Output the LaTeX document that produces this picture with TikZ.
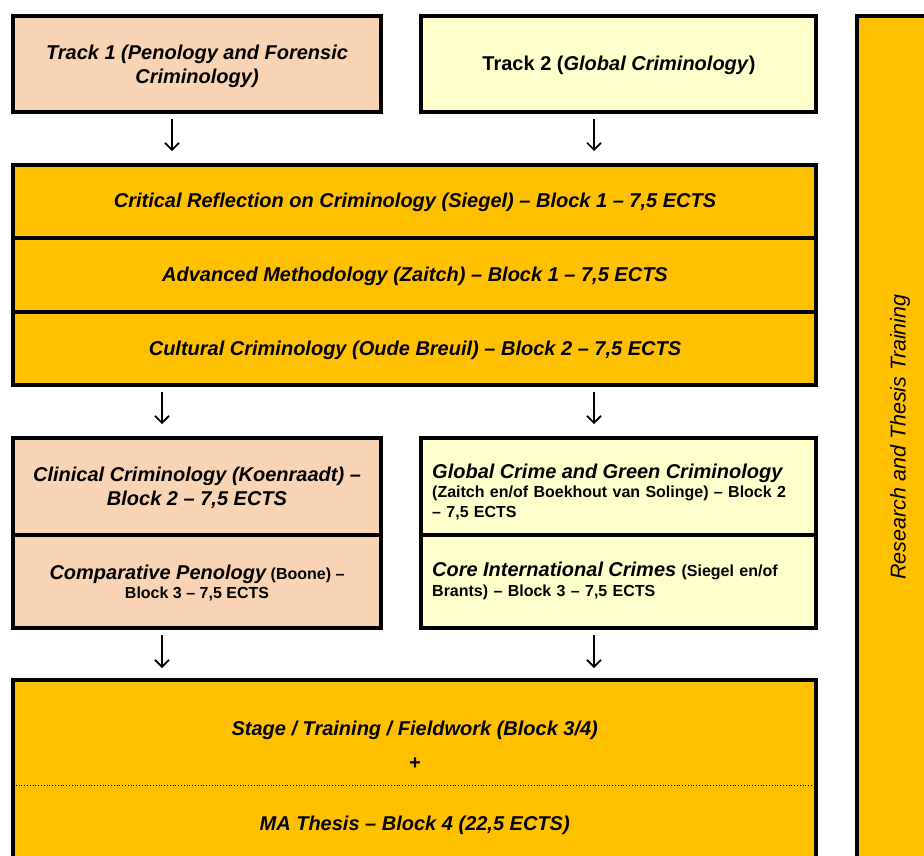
\documentclass[tikz,border=0pt]{standalone}
\usepackage{fontspec}
\usepackage{graphicx}
\setmainfont{Liberation Sans}
\usetikzlibrary{arrows.meta}
\definecolor{peach}{HTML}{F9D4B4}
\definecolor{pale}{HTML}{FFFFCC}
\definecolor{gold}{HTML}{FFC000}
\begin{document}
\begin{tikzpicture}[x=1pt,y=-1pt,
  box/.style={draw=black, line width=4pt, anchor=north west, inner sep=0pt},
  rowbox/.style={draw=black, line width=3.5pt, anchor=north west, inner sep=0pt, fill=gold},
  txt/.style={inner sep=0pt, align=center},
  ltxt/.style={inner sep=0pt, align=left, anchor=west, text width=372pt},
  big/.style={font=\fontsize{20}{24}\selectfont\bfseries\itshape},
  small/.style={font=\fontsize{16}{19.5}\selectfont\bfseries},
  arr/.style={line width=1.7pt, -{Straight Barb[length=7pt,width=14pt,line width=1.7pt]}, shorten <=5pt, shorten >=12pt}
]
\useasboundingbox (0,0) rectangle (924,855);
\clip (0,0) rectangle (924,855);
\fill[white] (0,0) rectangle (924,855);

% tracks
\node[box, fill=peach, minimum width=368pt, minimum height=96pt] (t1) at (11,14) {};
\node[txt, big] (t1txt) at (197,66) {Track 1 (Penology and Forensic\\Criminology)};
\node[box, fill=pale, minimum width=395pt, minimum height=96pt] (t2) at (419,14) {};
\node[txt, font=\fontsize{20}{24}\selectfont\bfseries] (t2txt) at (619,65) {Track 2 (\textit{Global Criminology})};

% common courses
\node[rowbox, minimum width=803pt, minimum height=73pt] (crit) at (11,163) {};
\node[rowbox, minimum width=803pt, minimum height=74pt] (adv) at (11,236) {};
\node[rowbox, minimum width=803pt, minimum height=73pt] (cult) at (11,310) {};
\draw[line width=4pt] (crit.north west) ++(2,2) rectangle ([shift={(-2pt,2pt)}]cult.south east);
\node[txt, big] (crittxt) at (415,202) {Critical Reflection on Criminology (Siegel) -- Block 1 -- 7,5 ECTS};
\node[txt, big] (advtxt) at (415,276) {Advanced Methodology (Zaitch) -- Block 1 -- 7,5 ECTS};
\node[txt, big] (culttxt) at (415,350) {Cultural Criminology (Oude Breuil) -- Block 2 -- 7,5 ECTS};

% track 1 courses
\node[box, fill=peach, minimum width=368pt, minimum height=97pt] (clin) at (11,436) {};
\node[box, fill=peach, minimum width=368pt, minimum height=93pt] (comp) at (11,533) {};
\node[txt, big] (clintxt) at (197,487.5) {Clinical Criminology (Koenraadt) --\\Block 2 -- 7,5 ECTS};
\node[txt, small] (comptxt) at (197,583)
  {{\fontsize{20}{22}\selectfont\itshape Comparative Penology} (Boone) --\\Block 3 -- 7,5 ECTS};

% track 2 courses
\node[box, fill=pale, minimum width=395pt, minimum height=97pt] (glob) at (419,436) {};
\node[box, fill=pale, minimum width=395pt, minimum height=93pt] (core) at (419,533) {};
\node[ltxt, small] (globtxt) at (432,491.5)
  {{\fontsize{20}{22}\selectfont\itshape Global Crime and Green Criminology}\\(Zaitch en/of Boekhout van Solinge) -- Block 2\\-- 7,5 ECTS};
\node[ltxt, small] (coretxt) at (432,581)
  {{\fontsize{20}{22}\selectfont\itshape Core International Crimes} (Siegel en/of\\Brants) -- Block 3 -- 7,5 ECTS};

% final stage
\node[anchor=north west, fill=gold, inner sep=0pt, minimum width=803pt, minimum height=130pt, align=center,
  font=\fontsize{20}{34}\selectfont\bfseries\itshape] (stage) at (13,680)
  {Stage / Training / Fieldwork (Block 3/4)\\+};
\node[anchor=north west, fill=gold, inner sep=0pt, minimum width=803pt, minimum height=80pt,
  font=\fontsize{20}{24}\selectfont\bfseries\itshape] (thesis) at (13,785)
  {MA Thesis -- Block 4 (22,5 ECTS)};
\draw[line width=0.8pt, dotted] (thesis.north west) -- (thesis.north east);
\draw[line width=4pt] (stage.north west) rectangle (thesis.south east);

% research column
\node[box, fill=gold, minimum width=86pt, minimum height=842pt, font=\fontsize{21.5}{24}\selectfont\itshape] (res) at (855,14)
  {\rotatebox{90}{Research and Thesis Training}};

% arrows
\coordinate (xa) at (172,0);
\coordinate (xb) at (594,0);
\coordinate (xc) at (162,0);
\draw[arr] (t1.south -| xa) -- (crit.north -| xa);
\draw[arr] (t2.south -| xb) -- (crit.north -| xb);
\draw[arr] (cult.south -| xc) -- (clin.north -| xc);
\draw[arr] (cult.south -| xb) -- (glob.north -| xb);
\draw[arr] (comp.south -| xc) -- (stage.north -| xc);
\draw[arr] (core.south -| xb) -- (stage.north -| xb);
\end{tikzpicture}
\end{document}
